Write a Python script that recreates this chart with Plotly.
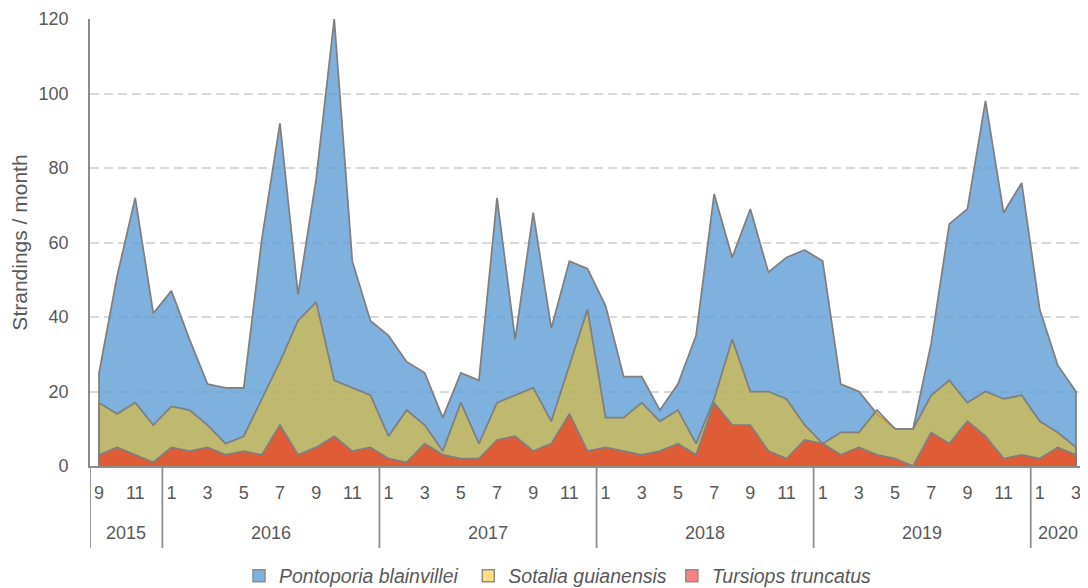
import plotly.graph_objects as go

# ---- categories (year, month) ----
year_labels = ["2015", "2016", "2017", "2018", "2019", "2020"]
months_by_year = [
    [9, 10, 11, 12],
    [1, 2, 3, 4, 5, 6, 7, 8, 9, 10, 11, 12],
    [1, 2, 3, 4, 5, 6, 7, 8, 9, 10, 11, 12],
    [1, 2, 3, 4, 5, 6, 7, 8, 9, 10, 11, 12],
    [1, 2, 3, 4, 5, 6, 7, 8, 9, 10, 11, 12],
    [1, 2, 3],
]

# ---- series (upper edge of each coloured area, strandings / month) ----
pontoporia = [25, 51, 72, 41,
              47, 34, 22, 21, 21, 61, 92, 46, 77, 120, 55, 39,
              35, 28, 25, 13, 25, 23, 72, 34, 68, 37, 55, 53,
              43, 24, 24, 15, 22, 35, 73, 56, 69, 52, 56, 58,
              55, 22, 20, 14, 10, 10, 33, 65, 69, 98, 68, 76,
              42, 27, 20]
sotalia = [17, 14, 17, 11,
           16, 15, 11, 6, 8, 18, 28, 39, 44, 23, 21, 19,
           8, 15, 11, 4, 17, 6, 17, 19, 21, 12, 27, 42,
           13, 13, 17, 12, 15, 6, 18, 34, 20, 20, 18, 11,
           6, 9, 9, 15, 10, 10, 19, 23, 17, 20, 18, 19,
           12, 9, 5]
tursiops = [3, 5, 3, 1,
            5, 4, 5, 3, 4, 3, 11, 3, 5, 8, 4, 5,
            2, 1, 6, 3, 2, 2, 7, 8, 4, 6, 14, 4,
            5, 4, 3, 4, 6, 3, 17, 11, 11, 4, 2, 7,
            6, 3, 5, 3, 2, 0, 9, 6, 12, 8, 2, 3,
            2, 5, 3]

y_ticks = [0, 20, 40, 60, 80, 100, 120]

series = [
    ("Pontoporia blainvillei", pontoporia, "rgba(91,155,213,0.78)"),
    ("Sotalia guianensis", sotalia, "rgba(255,192,0,0.5)"),
    ("Tursiops truncatus", tursiops, "rgba(255,0,0,0.5)"),
]
legend_pad = [1, 0, 0]  # trailing spaces to reproduce legend item spacing

TEXT = "#595959"
AXIS = "#8C8C8C"
FONT = "Liberation Sans, Arial, sans-serif"

# page body has an 8px default margin: the figure is sized/placed to compensate
FIG_W, FIG_H = 1080, 580
M_L, M_T, M_R = 82, 11, 3
PLOT_H = 447
M_B = FIG_H - M_T - PLOT_H

cats = []
month_of_cat = []
for yl, ms in zip(year_labels, months_by_year):
    for m in ms:
        cats.append(f"{yl}-{m:02d}")
        month_of_cat.append(m)

fig = go.Figure()
for name, vals, col in series:
    xs = [cats[0]] + cats + [cats[-1]]
    ys = [0] + list(vals) + [0]
    fig.add_trace(go.Scatter(
        x=xs, y=ys, mode="lines", fill="toself", fillcolor=col,
        line=dict(color="#7F7F7F", width=1.75), showlegend=False,
        hoverinfo="skip", name=name))

# legend-only square markers
for (name, vals, col), pad in zip(series, legend_pad):
    fig.add_trace(go.Scatter(
        x=[None], y=[None], mode="markers",
        name=f"<i>{name}</i>" + "&nbsp;" * pad,
        marker=dict(symbol="square", size=12, color=col,
                    line=dict(color="#8C8C8C", width=1.5))))

# year group labels and separators
sep_bottom = -(548 - 466) / PLOT_H
year_y = -(533 - 466) / PLOT_H
start = 0
bounds = [-0.5]
for yl, ms in zip(year_labels, months_by_year):
    end = start + len(ms) - 1
    fig.add_annotation(x=(start + end) / 2, y=year_y, xref="x", yref="paper",
                       text=yl, showarrow=False, yanchor="middle",
                       font=dict(size=18, color=TEXT, family=FONT))
    bounds.append(end + 0.5)
    start = end + 1
for b in bounds:
    fig.add_shape(type="line", xref="x", yref="paper", x0=b, x1=b,
                  y0=0, y1=sep_bottom, line=dict(color=AXIS, width=1.75))

fig.update_layout(
    width=FIG_W, height=FIG_H,
    margin=dict(l=M_L, r=M_R, t=M_T, b=M_B, autoexpand=False),
    paper_bgcolor="white", plot_bgcolor="white",
    font=dict(family=FONT, size=18, color=TEXT),
    showlegend=True,
    legend=dict(orientation="h", xref="container", yref="container",
                x=(558 - 8) / FIG_W, xanchor="center",
                y=(FIG_H - (576 - 8)) / FIG_H, yanchor="middle",
                font=dict(size=19.5, color=TEXT, family=FONT),
                itemwidth=30, tracegroupgap=0),
    xaxis=dict(type="category", categoryorder="array", categoryarray=cats,
               range=[-0.5, len(cats) - 0.5],
               tickmode="array", tickvals=cats[::2],
               ticktext=[str(m) for m in month_of_cat[::2]],
               ticks="", showgrid=False, zeroline=False,
               showline=True, linecolor=AXIS, linewidth=1.75,
               tickfont=dict(size=18, color=TEXT, family=FONT),
               ticklabelstandoff=10),
    yaxis=dict(range=[0, 120], tickvals=y_ticks, showgrid=True,
               gridcolor="#D9D9D9", gridwidth=1.5, griddash="9px,5px",
               zeroline=False, showline=True, linecolor=AXIS, linewidth=1.75,
               ticks="", tickfont=dict(size=18, color=TEXT, family=FONT),
               ticklabelstandoff=16,
               title=dict(text="Strandings / month", standoff=11,
                          font=dict(size=21, color=TEXT, family=FONT))),
)

fig.write_html("out.html")
